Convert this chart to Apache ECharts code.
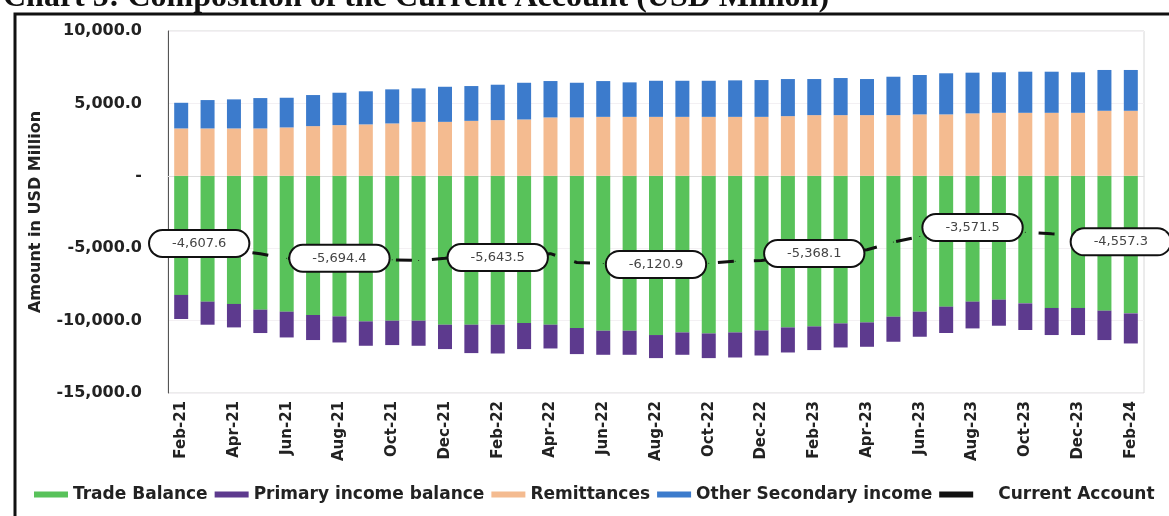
<!DOCTYPE html>
<html lang="en">
<head>
  <meta charset="utf-8">
  <title>Composition of the Current Account</title>
  <script src="https://cdn.jsdelivr.net/npm/echarts@6/dist/echarts.min.js"></script>
  <style>
    html, body { margin: 0; padding: 0; background: #fff; }
    #chart { width: 1169px; height: 516px; }
  </style>
</head>
<body>
<div id="chart"></div>
<script>
  // months Feb-21 .. Feb-24
  const months = ['Feb-21', 'Mar-21', 'Apr-21', 'May-21', 'Jun-21', 'Jul-21', 'Aug-21', 'Sep-21', 'Oct-21', 'Nov-21', 'Dec-21',
    'Jan-22', 'Feb-22', 'Mar-22', 'Apr-22', 'May-22', 'Jun-22', 'Jul-22', 'Aug-22', 'Sep-22', 'Oct-22', 'Nov-22', 'Dec-22',
    'Jan-23', 'Feb-23', 'Mar-23', 'Apr-23', 'May-23', 'Jun-23', 'Jul-23', 'Aug-23', 'Sep-23', 'Oct-23', 'Nov-23', 'Dec-23',
    'Jan-24', 'Feb-24'];

  const tradeBalance = [-8227, -8691, -8850, -9245, -9384, -9612, -9709, -10055, -10007, -10007, -10284,
    -10284, -10284, -10166, -10284, -10512, -10699, -10699, -10997, -10817, -10886, -10817, -10679,
    -10471, -10402, -10194, -10125, -9730, -9384, -9037, -8691, -8553, -8809, -9127, -9127,
    -9315, -9501];

  const primaryIncome = [-1662, -1593, -1620, -1614, -1780, -1731, -1801, -1683, -1683, -1731, -1683,
    -1960, -1988, -1801, -1641, -1801, -1662, -1662, -1593, -1544, -1704, -1731, -1731,
    -1731, -1634, -1662, -1683, -1731, -1731, -1821, -1849, -1801, -1842, -1870, -1870,
    -2029, -2078];

  const remittances = [3270, 3270, 3270, 3270, 3340, 3430, 3500, 3550, 3615, 3725, 3725,
    3795, 3845, 3890, 4030, 4030, 4070, 4070, 4070, 4070, 4070, 4070, 4070,
    4120, 4190, 4190, 4190, 4190, 4240, 4240, 4310, 4350, 4350, 4350, 4350,
    4490, 4490];

  const otherSecondary = [1773, 1960, 2008, 2098, 2050, 2147, 2237, 2285, 2355, 2313, 2424,
    2403, 2445, 2535, 2514, 2396, 2472, 2382, 2493, 2493, 2493, 2521, 2542,
    2562, 2493, 2562, 2493, 2652, 2722, 2839, 2812, 2798, 2839, 2839, 2798,
    2819, 2819];

  const currentAccount = [-4607.6, -4900, -5150, -5390, -5700, -5750, -5694.4, -5780, -5800, -5850, -5700,
    -5500, -5643.5, -5500, -5380, -5990, -6050, -6080, -6120.9, -6000, -6040, -5900, -5850,
    -5600, -5368.1, -5250, -5110, -4580, -4200, -3900, -3571.5, -3700, -3890, -4000, -4100,
    -4300, -4557.3];

  // points that carry a value bubble
  const labelled = [0, 6, 12, 18, 24, 30, 36];

  const fmt = v => v.toLocaleString('en-US', {minimumFractionDigits: 1, maximumFractionDigits: 1});

  const caData = currentAccount.map((v, i) => {
    if (labelled.indexOf(i) < 0) return v;
    let off = [0, 0];
    if (i === 0) off = [18, 1];
    if (i === currentAccount.length - 1) off = [-10, 0];
    return {value: v, label: {show: true, offset: off}};
  });

  const chart = echarts.init(document.getElementById('chart'));
  const font = 'DejaVu Sans';

  const option = {
    animation: false,
    backgroundColor: '#fff',
    title: {
      text: 'Chart 5: Composition of the Current Account (USD Million)',
      left: -2,
      top: -23,
      textStyle: {fontFamily: 'Liberation Serif', fontWeight: 'bold', fontSize: 32, color: '#111'}
    },
    graphic: [{
      type: 'polyline',
      shape: {points: [[15, 516], [15, 14], [1169, 14]]},
      style: {stroke: '#111', lineWidth: 3, fill: null},
      z: 10
    }],
    legend: {
      left: 29,
      top: 481,
      width: 1300,
      itemWidth: 34,
      itemHeight: 6,
      itemGap: 7,
      textStyle: {fontFamily: font, fontWeight: 'bold', fontSize: 17, color: '#222'},
      data: [
        {name: 'Trade Balance', icon: 'rect'},
        {name: 'Primary income balance', icon: 'rect'},
        {name: 'Remittances', icon: 'rect'},
        {name: 'Other Secondary income', icon: 'rect'},
        {name: 'Current Account', icon: 'rect', textStyle: {padding: [0, 0, 0, 20]}}
      ]
    },
    grid: {
      left: 168, right: 25, top: 31, bottom: 123,
      show: true, borderColor: '#d8d8d8', borderWidth: 1
    },
    xAxis: {
      type: 'category',
      data: months,
      axisLine: {lineStyle: {color: '#ddd'}},
      axisTick: {show: false},
      axisLabel: {
        interval: 1, rotate: 90, margin: 8,
        fontFamily: font, fontWeight: 'bold', fontSize: 15, color: '#222'
      }
    },
    yAxis: {
      type: 'value',
      min: -15000, max: 10000, interval: 5000,
      name: 'Amount in USD Million',
      nameLocation: 'middle',
      nameGap: 124,
      nameTextStyle: {fontFamily: font, fontWeight: 'bold', fontSize: 16, color: '#222'},
      axisLine: {show: true, lineStyle: {color: '#555'}},
      axisTick: {show: false},
      splitLine: {lineStyle: {color: '#f3f0f3'}},
      axisLabel: {
        margin: 26,
        fontFamily: font, fontWeight: 'bold', fontSize: 16, color: '#222',
        formatter: v => v === 0 ? '-' : fmt(v)
      }
    },
    series: [
      {name: 'Trade Balance', type: 'bar', stack: 'ca', barWidth: 14,
        itemStyle: {color: '#58c25a'}, data: tradeBalance},
      {name: 'Primary income balance', type: 'bar', stack: 'ca', barWidth: 14,
        itemStyle: {color: '#5d3a8e'}, data: primaryIncome},
      {name: 'Remittances', type: 'bar', stack: 'ca', barWidth: 14,
        itemStyle: {color: '#f4bb90'}, data: remittances},
      {name: 'Other Secondary income', type: 'bar', stack: 'ca', barWidth: 14,
        itemStyle: {color: '#3c7bcc'}, data: otherSecondary},
      {
        name: 'Current Account', type: 'line', z: 5,
        symbol: 'circle', symbolSize: 1, showAllSymbol: true,
        itemStyle: {color: '#111'},
        lineStyle: {color: '#111', width: 3, type: [16, 20]},
        label: {
          show: false,
          position: 'inside',
          formatter: p => fmt(p.value),
          fontFamily: font, fontSize: 13, color: '#444',
          backgroundColor: '#fff', borderColor: '#111', borderWidth: 2,
          borderRadius: 15, padding: [6, 22]
        },
        data: caData
      }
    ]
  };

  chart.setOption(option);
</script>
</body>
</html>
